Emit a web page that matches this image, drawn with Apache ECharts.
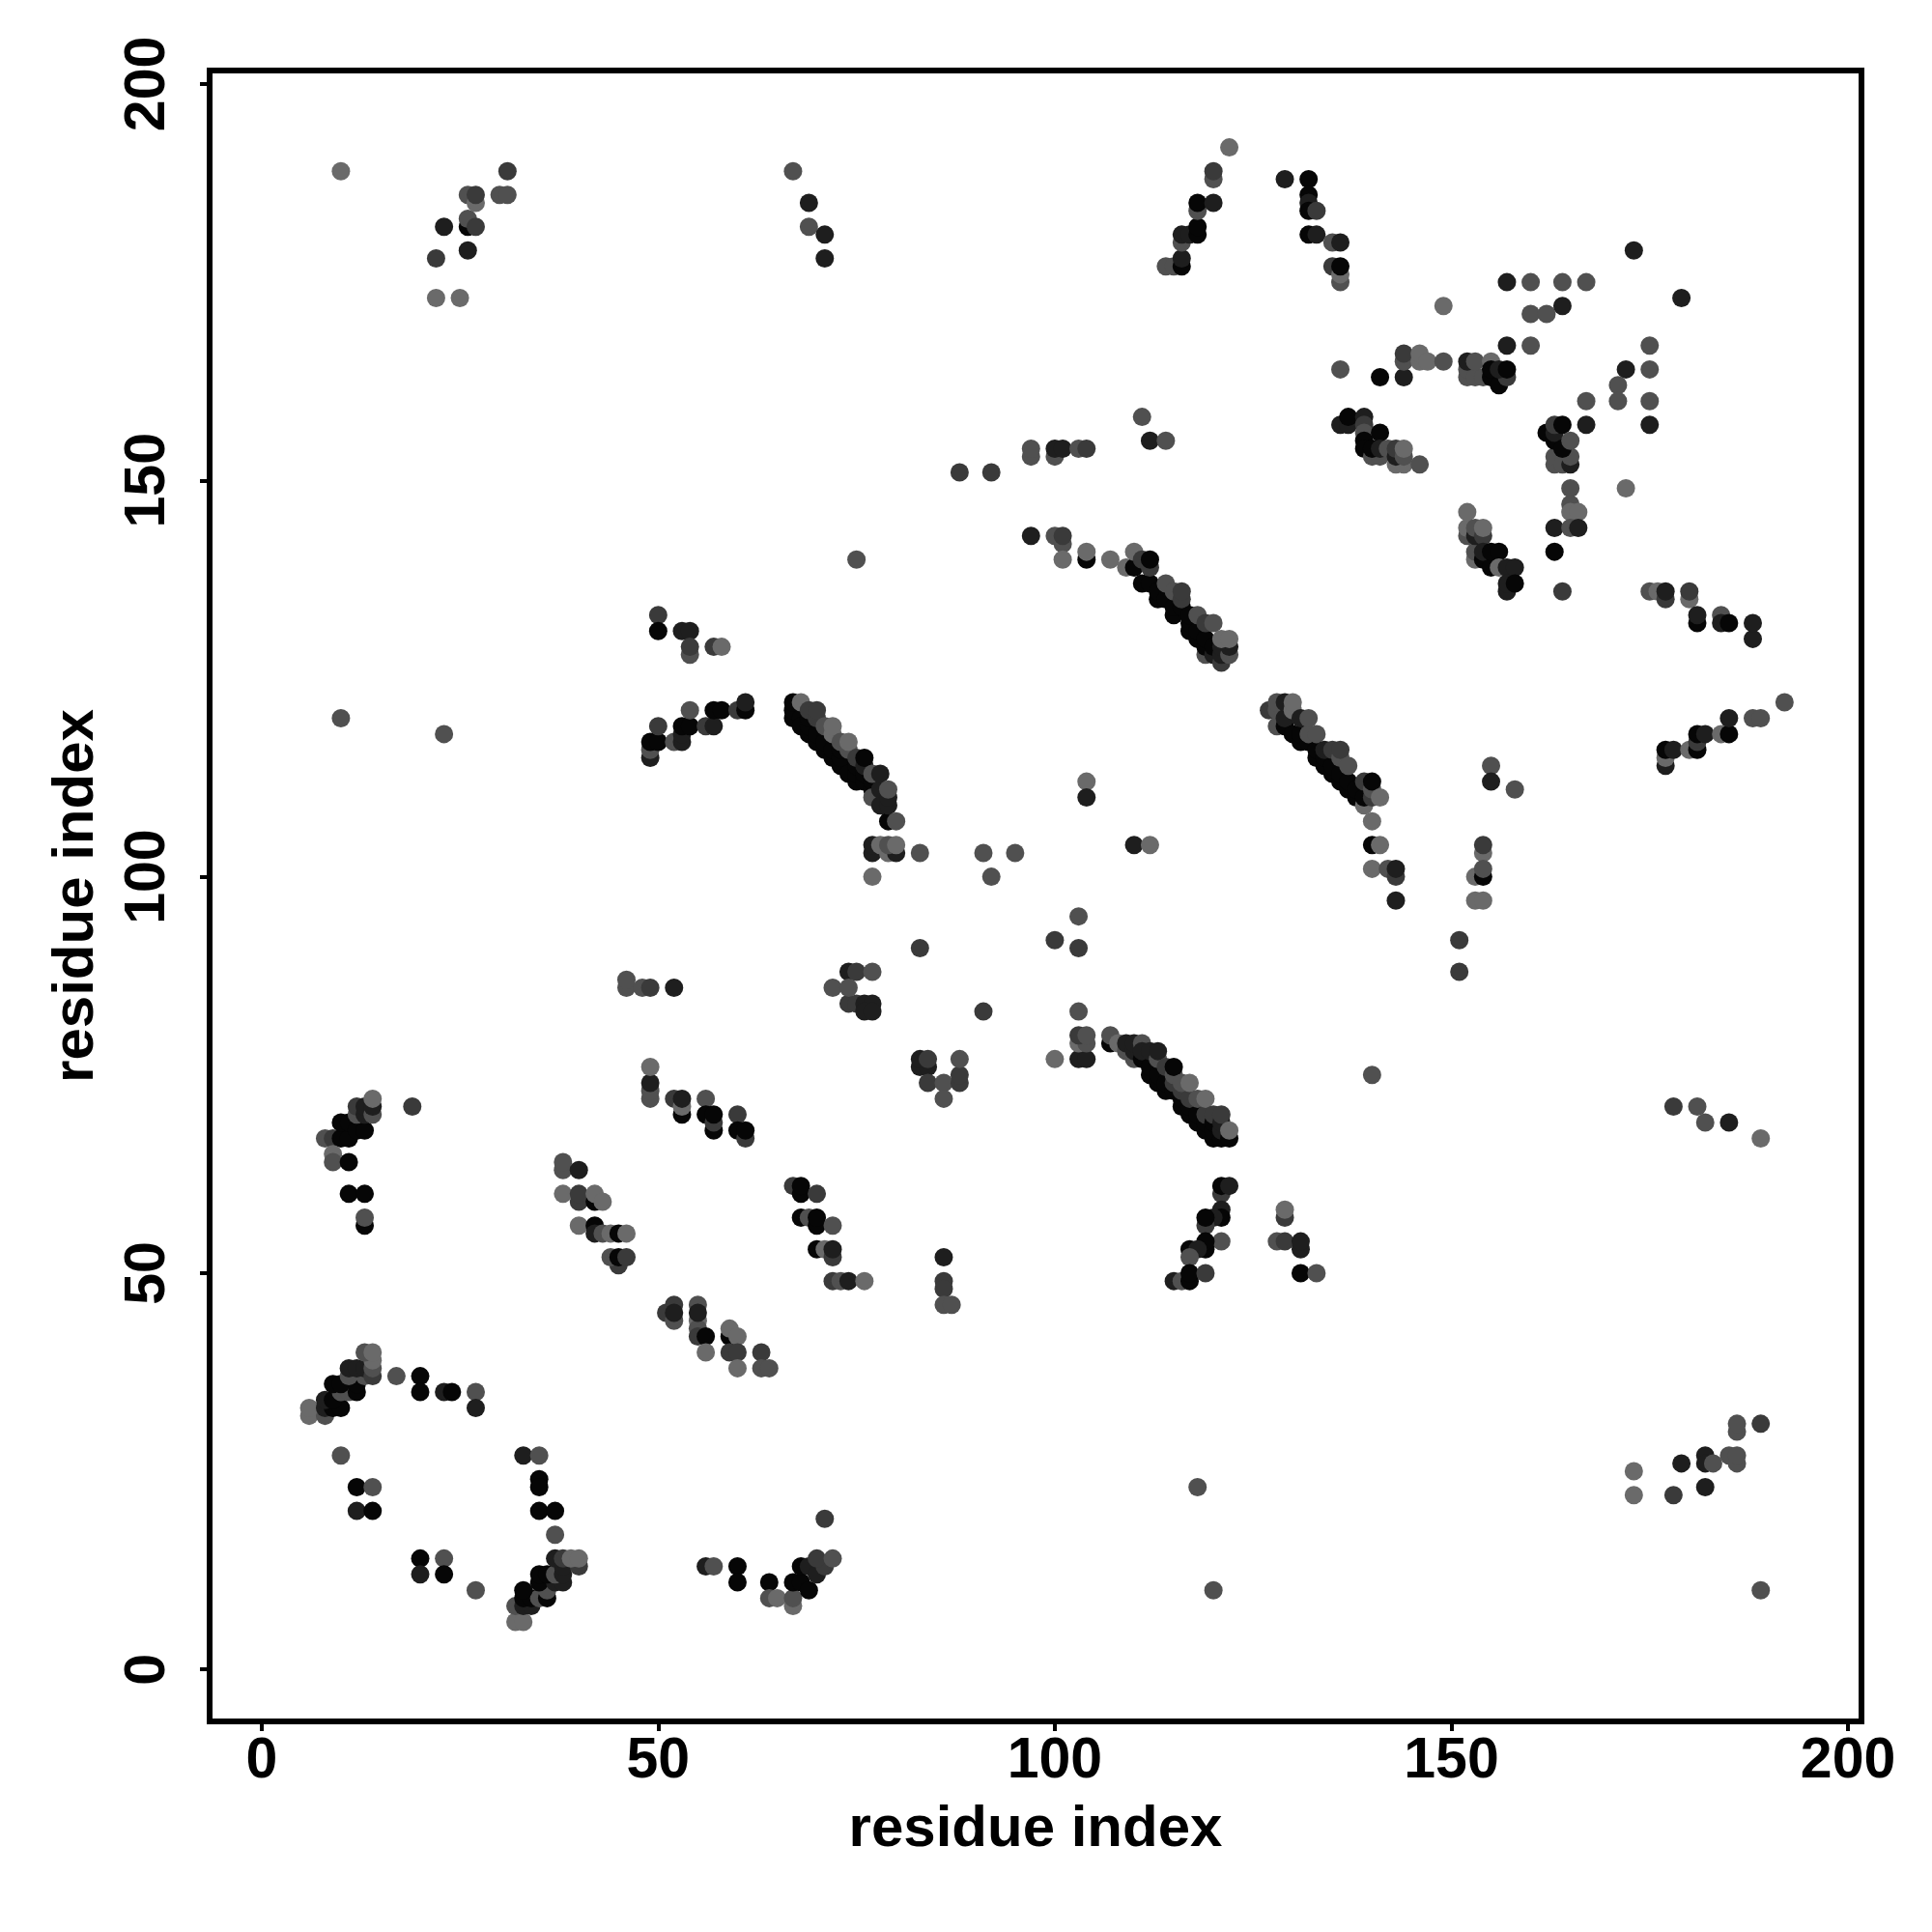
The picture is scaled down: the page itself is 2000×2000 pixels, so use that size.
<!DOCTYPE html>
<html><head><meta charset="utf-8">
<style>html,body{margin:0;padding:0;background:#fff}#c{width:2000px;height:2000px}</style>
<script src="https://cdn.jsdelivr.net/npm/echarts@6/dist/echarts.min.js"></script>
</head><body><div id="c"></div>
<script>
// each contact: [residue x, residue y, shade index]
const shades = ['#6a6a6a','#505050','#3a3a3a','#1e1e1e','#060606'];
const axisTicks = [0,50,100,150,200];
const axisTitle = 'residue index';

const lowLeft = [
[6,32,0],[8,32,1],[6,33,0],[8,33,3],[9,33,4],[10,33,4],[8,34,3],[9,34,4],[10,35,1],[11,35,1],[12,35,4],[9,36,4],[10,36,4],[12,36,4],[11,37,1],[13,37,1],[11,38,3],[12,38,3],[13,38,3],[14,37,2],[14,38,1],[14,39,0],[13,40,1],[14,40,0],
[17,37,1],[20,37,4],[20,35,4],[23,35,3],[24,35,4],[27,35,1],[27,33,3],
[32,6,0],[33,6,0],[32,8,1],[33,8,3],[34,8,3],[33,9,4],[34,9,4],[35,9,1],[36,9,4],[33,10,4],[36,10,1],[35,11,4],[37,11,3],[38,11,3],[35,12,4],[36,12,4],[37,12,1],[38,12,3],[38,13,3],[40,13,2],[37,14,3],[38,14,2],[39,14,0],[40,14,0],
[37,17,1],[33,27,3],[35,27,1],[35,24,4],[35,23,4],[35,20,4],[37,20,4],[10,27,1],[12,23,4],[14,23,1],[12,20,3],[14,20,4],[20,14,4],[23,14,1],[20,12,3],[23,12,4],[27,10,1],
[56,13,3],[57,13,1],[60,13,4],[60,11,4],[64,11,4],[64,9,1],[65,9,0],[67,8,0],[67,9,1],[67,11,4],[68,11,4],[69,10,4],[68,13,4],[69,13,3],[70,12,3],[71,13,2],[70,14,2],[72,14,1],[71,19,2]
];
const midLeft = [
[8,67,1],[9,67,2],[10,67,4],[11,67,4],[9,65,0],[9,64,1],[11,64,4],[10,69,4],[11,69,4],[12,68,4],[13,68,4],[12,70,1],[12,71,2],[13,70,3],[13,71,3],[14,70,1],[14,71,3],[14,72,0],[11,60,4],[13,60,4],[13,56,4],[13,57,1],[19,71,2],
[38,63,1],[38,64,1],[40,63,3],[38,60,0],[40,59,2],[40,60,2],[42,59,4],[42,60,0],[43,59,0],[40,56,0],[42,56,4],[42,55,3],[43,55,1],[44,55,0],[45,55,4],[46,55,0],[45,51,2],[44,52,1],[45,52,4],[46,52,2],
[49,72,1],[49,73,1],[49,74,3],[49,76,0],[52,72,2],[53,70,4],[53,71,0],[53,72,3],[56,72,1],[56,70,4],[57,68,4],[57,69,2],[57,70,4],[60,70,2],[60,68,4],[61,67,2],[61,68,4],
[67,61,2],[68,60,4],[68,61,4],[70,60,2],[68,57,4],[69,57,1],[70,56,4],[70,57,4],[72,56,1],[70,53,4],[71,53,0],[72,52,2],[72,53,3],[72,49,2],[73,49,1],[74,49,3],[76,49,0],
[51,45,2],[52,44,1],[52,46,2],[52,45,3],[55,44,0],[55,43,1],[55,46,1],[55,45,3],[55,42,2],[56,42,4],[56,40,0],[59,42,4],[59,43,0],[60,42,0],[59,40,2],[60,40,2],[60,38,0],[63,40,2],[63,38,1],[64,38,1],
[86,52,3],[86,49,2],[86,48,2],[86,46,1],[87,46,1]
];
const upperLeft = [
[10,189,0],[10,120,1],[23,118,1],[22,173,0],[25,173,0],[22,178,2],[23,182,3],[26,179,3],[26,182,4],[26,183,1],[27,182,2],[26,186,1],[27,185,0],[27,186,2],[30,186,1],[31,186,1],[31,189,2],
[67,189,1],[69,185,3],[69,182,1],[71,181,3],[71,178,3],
[50,133,2],[50,131,4],[53,131,3],[54,131,3],[54,128,1],[54,129,2],[57,129,2],[58,129,0],
[49,115,3],[49,116,1],[49,117,4],[50,117,4],[50,119,2],[52,117,1],[53,117,3],[53,118,3],[53,119,4],[54,119,4],[54,121,1],[56,119,2],[57,119,3],[57,121,4],[58,121,4],[60,121,2],[61,121,4],[61,122,3],
[46,86,1],[46,87,1],[48,86,1],[49,86,2],[52,86,3],[75,140,1]
];
const bandA = [
[67,120,4],[67,121,4],[67,122,4],[68,120,4],[68,119,4],[69,118,4],[69,119,4],[69,120,4],[70,117,4],[70,118,4],[71,116,4],[71,117,4],[72,115,4],[72,116,4],[73,114,4],[73,115,4],[73,116,4],[74,113,4],[75,112,4],[75,113,4],[75,114,4],[76,112,4],[76,113,4],[77,111,4],[77,112,4],[78,110,4],
[68,122,0],[69,121,2],[70,120,2],[70,121,2],[71,119,1],[72,118,0],[72,119,0],[73,117,1],[74,116,1],[74,117,0],[75,115,2],[76,114,3],[76,115,4],[77,110,1],[77,113,1],[78,109,3],[78,111,3],[78,113,3],[79,107,4],[79,109,3],[79,110,3],[79,111,1],[80,107,1],
[77,103,3],[77,104,3],[78,104,0],[79,103,0],[80,103,3],[79,104,1],[80,104,0],[83,103,1],[77,100,0],
[74,84,2],[75,84,2],[76,84,3],[77,84,3],[76,83,3],[77,83,3],[74,88,3],[75,88,2],[77,88,1],[72,86,1],[74,86,1],
[83,91,2],[83,76,3],[84,76,3],[83,77,3],[84,77,2],[84,74,2],[86,74,1],[86,72,1],[88,74,2],[88,75,2],[88,77,1]
];
const bandB = [
[91,83,2],[103,83,1],[100,77,0],[103,77,3],[104,77,3],[103,79,0],[104,79,1],[103,80,2],[104,80,1],
[107,79,4],[107,80,1],[108,79,0],[110,77,1],[109,78,1],[109,79,3],[110,78,3],[110,79,3],[111,79,1],[111,77,4],[111,78,3],[112,75,4],[112,76,4],[112,78,3],[113,74,4],[113,75,4],[113,77,1],[113,78,3],[114,73,4],[114,74,4],[114,76,2],[115,73,4],[115,74,2],[115,75,1],[115,76,4],[116,71,4],[116,72,4],[116,73,2],[116,74,1],[117,70,4],[117,71,4],[117,72,2],[117,74,0],[118,69,4],[118,70,4],[118,72,1],[119,68,4],[119,69,4],[119,70,2],[119,72,0],[120,67,4],[120,68,4],[120,69,4],[120,70,2],[121,67,4],[121,68,3],[121,69,3],[121,70,2],[122,67,4],[122,68,0],
[121,60,2],[121,61,4],[122,61,3],[121,58,3],[121,57,4],[120,57,3],[119,56,2],[119,57,4],[121,54,1],[119,53,4],[119,54,4],[117,53,4],[118,53,3],[117,52,1],[115,49,3],[116,49,1],[117,49,4],[117,50,4],[119,50,2],
[129,57,2],[129,58,0],[128,54,1],[129,54,2],[131,53,3],[131,54,3],[131,50,4],[133,50,1],
[118,23,1],[120,10,1],[140,75,1]
];
const bandC = [
[97,143,3],[100,143,1],[101,142,1],[101,143,2],[101,140,0],[104,140,4],[104,141,0],[107,140,0],[109,139,0],[110,139,4],[110,141,0],[111,140,2],[111,137,4],[112,137,4],[112,139,2],[112,140,4],[113,135,4],[113,136,4],[114,135,4],[114,137,1],[115,133,4],[115,134,4],[115,136,1],[116,134,4],[116,135,2],[116,136,2],[117,131,4],[117,132,4],[117,133,4],[118,130,4],[118,131,4],[118,133,1],[119,128,1],[119,129,4],[119,130,4],[119,132,2],[120,128,3],[120,129,4],[120,132,1],[121,127,2],[121,128,3],[121,129,3],[122,128,1],[122,129,3],[121,130,0],[122,130,0],
[127,121,2],[128,119,1],[128,121,1],[128,122,1],[129,119,4],[129,120,3],[129,122,3],[130,118,4],[130,121,0],[130,122,0],[131,117,4],[131,118,4],[131,120,3],[132,117,4],[132,118,1],[132,120,1],[133,115,4],[133,116,4],[133,118,1],[134,114,4],[134,115,4],[134,116,3],[135,113,4],[135,114,4],[135,116,2],[136,112,4],[136,113,4],[136,115,1],[136,116,2],[137,111,4],[137,112,4],[137,114,1],[138,110,4],[138,111,4],[139,109,0],[139,110,4],[139,112,2],[140,110,2],[140,111,1],[140,112,4],[141,110,0],
[140,107,0],[140,104,4],[141,104,0],[140,101,0],[142,101,1],[143,100,2],[143,101,3],[143,97,3],
[104,112,0],[104,110,3],[110,104,3],[112,104,0],[91,103,1],[95,103,1],[92,100,1],[103,95,1],[100,92,2],[103,91,2],
[88,151,2],[92,151,2],[97,153,1],[97,154,1],[100,153,1],[100,154,3],[101,154,3],[103,154,1],[104,154,2],[111,158,1],[112,155,3],[114,155,1]
];
const topMiddle = [
[114,177,1],[115,177,1],[116,177,4],[116,178,3],[116,180,1],[116,181,3],[117,181,3],[118,181,4],[118,182,4],[118,184,1],[118,185,4],[120,185,3],[120,188,1],[120,189,2],[122,192,0],
[129,188,3],[132,188,4],[132,186,4],[132,185,3],[132,184,4],[133,184,2],[132,181,4],[133,181,3],[135,180,1],[136,180,3],[135,177,2],[136,175,1],[136,176,0],[136,177,4],
[136,164,1],[141,163,4],[144,163,3],[144,165,1],[144,166,2],[146,165,0],[146,166,0],[147,165,0],[149,165,1],[149,172,0],
[157,175,3],[160,175,1],[164,175,1],[167,175,1],[173,179,3],[179,173,3],[160,171,1],[162,171,1],[164,172,3],[157,167,3],[160,167,1],[175,167,1],[172,164,3],[175,164,1],[171,162,1],[171,160,1],[167,160,1],[175,160,1],[167,157,3],[175,157,3],
[152,163,1],[152,164,1],[153,163,1],[154,163,1],[152,165,3],[153,165,1],[155,165,0],[155,163,4],[156,162,4],[157,163,2],[155,164,4],[156,164,3],[157,164,4]
];
const rightSide = [
[163,152,1],[163,153,1],[164,152,1],[165,152,3],[165,153,1],[162,156,4],[163,155,4],[163,156,3],[163,157,2],[164,154,4],[164,157,4],[165,155,1],
[165,149,1],[172,149,0],[165,147,1],[165,146,0],[166,146,0],[163,144,3],[165,144,1],[166,144,3],[163,141,4],[164,136,2],
[136,157,3],[137,157,3],[137,158,4],[139,158,3],[139,157,2],[139,156,1],[139,155,4],[139,154,4],[140,153,1],[141,153,1],[140,154,4],[141,156,4],[141,154,3],[142,154,1],[143,152,0],[144,152,0],[143,153,3],[143,154,2],[144,153,1],[144,154,0],[146,152,1],
[152,143,1],[152,144,0],[152,146,0],[153,140,0],[153,141,1],[153,143,3],[153,144,1],[154,143,2],[154,144,0],[154,140,4],[154,141,3],[155,139,4],[155,141,4],[156,141,4],[156,139,0],[157,139,3],[158,139,3],[157,136,3],[157,137,3],[158,137,4],
[175,136,1],[176,136,0],[177,135,2],[177,136,3],[180,135,0],[180,136,2],[181,132,4],[181,133,3],[184,133,1],[184,132,3],[185,132,4],[188,130,3],[188,132,3],
[155,114,1],[155,112,3],[158,111,1],[154,103,0],[154,104,2],[153,100,0],[154,100,4],[154,101,1],[153,97,0],[154,97,0],[151,92,2],[151,88,2],
[177,114,3],[177,115,0],[177,116,4],[178,116,3],[180,116,0],[181,116,4],[181,117,2],[181,118,4],[182,118,3],[184,118,0],[185,118,4],[185,120,3],[188,120,1],[189,120,1],[192,122,1],
[178,71,2],[181,71,1],[182,69,1],[185,69,3],[189,67,0],
[173,25,0],[173,22,0],[178,22,2],[179,26,3],[182,27,3],[182,26,3],[182,23,3],[183,26,1],[185,27,1],[186,26,1],[186,27,1],[186,30,1],[186,31,1],[189,31,2],[189,10,1]
];

const contacts = [].concat(lowLeft, midLeft, upperLeft, bandA, bandB, bandC, topMiddle, rightSide);
const tickFont = {fontFamily:'Liberation Sans',fontWeight:'bold',fontSize:59,color:'#000'};
const nameFont = {fontFamily:'Liberation Sans',fontWeight:'bold',fontSize:60,color:'#000'};
function axis(rotate, gap, nameGap){
  return {
    type:'value', min:-6.55, max:201.7,
    name:axisTitle, nameLocation:'middle', nameGap:nameGap, nameRotate:rotate,
    nameTextStyle:nameFont,
    axisLine:{show:false,onZero:false}, splitLine:{show:false},
    axisTick:{show:true,length:10,customValues:axisTicks,lineStyle:{color:'#000',width:4}},
    axisLabel:Object.assign({show:true,margin:gap,rotate:rotate,customValues:axisTicks,hideOverlap:false},tickFont)
  };
}
const chart = echarts.init(document.getElementById('c'),null,{renderer:'canvas'});
chart.setOption({
  animation:false, backgroundColor:'#fff',
  grid:{left:217,top:73,width:1710,height:1709,show:true,borderWidth:6,borderColor:'#000',backgroundColor:'#fff'},
  xAxis:axis(0,12,82),
  yAxis:axis(90,34,108),
  series:[{
    type:'scatter', data:contacts, symbol:'circle', symbolSize:19,
    large:false, clip:false, silent:true,
    itemStyle:{opacity:1,color:p=>shades[p.data[2]]}
  }]
});
</script></body></html>
